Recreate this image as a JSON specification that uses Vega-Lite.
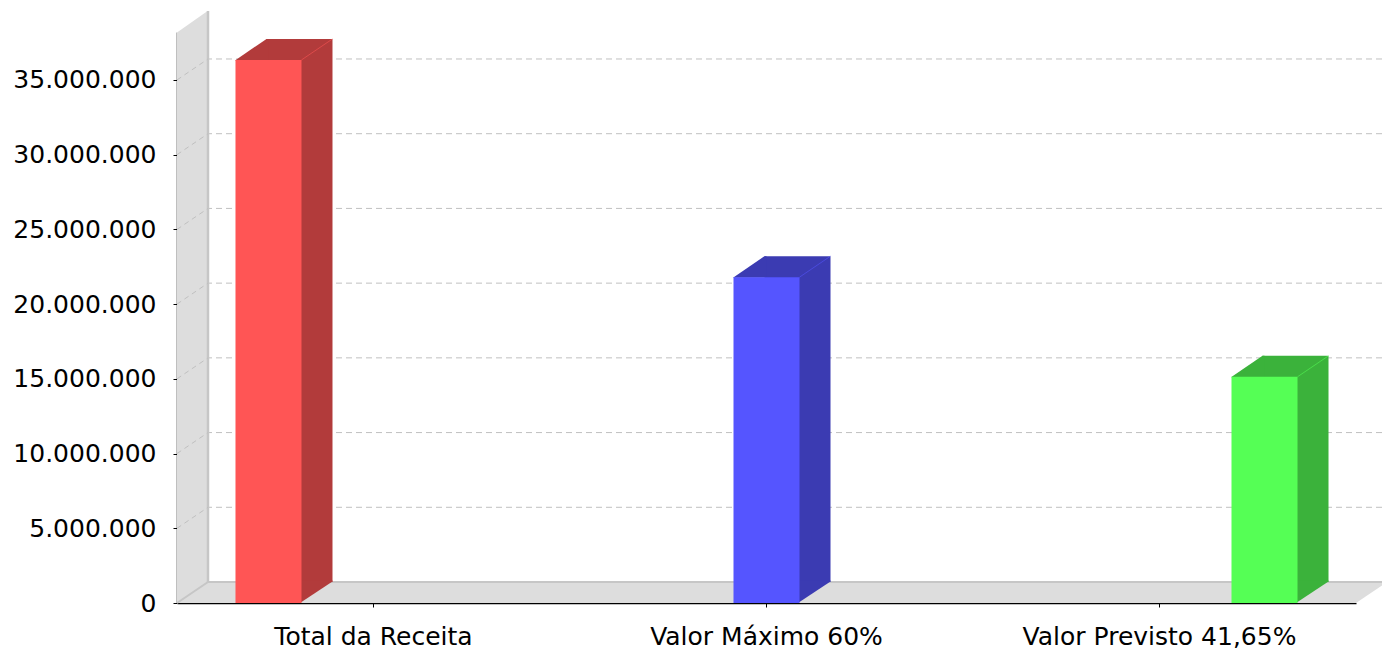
{
  "$schema": "https://vega.github.io/schema/vega-lite/v6.json",
  "width": 1205,
  "height": 571,
  "autosize": {"type": "none"},
  "padding": {"left": 177, "top": 32, "right": 0, "bottom": 46},
  "background": "white",
  "config": {
    "view": {"stroke": null},
    "font": "DejaVu Sans",
    "locale": {"number": {"decimal": ",", "thousands": ".", "grouping": [3], "currency": ["R$ ", ""]}},
    "axisX": {"labelAngle": 0, "labelFontSize": 25, "labelColor": "#000000", "tickColor": "#000000", "domainColor": "#000000", "tickSize": 4, "labelPadding": 17, "grid": false, "zindex": 1, "domainWidth": 1.5, "labelLimit": 600, "labelOverlap": false, "labelFont": "DejaVu Sans"},
    "axisY": {"labelFontSize": 25, "labelColor": "#000000", "tickColor": "#000000", "domainColor": "#000000", "tickSize": 4, "labelPadding": 17, "grid": false, "zindex": 1, "domainWidth": 1.5, "labelLimit": 600, "labelFont": "DejaVu Sans"}
  },
  "datasets": {
    "valores": [
      {"categoria": "Total da Receita", "serie": "Total da Receita", "valor": 36340000},
      {"categoria": "Valor Máximo 60%", "serie": "Valor Máximo 60%", "valor": 21804000},
      {"categoria": "Valor Previsto 41,65%", "serie": "Valor Previsto 41,65%", "valor": 15136000}
    ],
    "grade": [
      {"v": 5000000}, {"v": 10000000}, {"v": 15000000}, {"v": 20000000},
      {"v": 25000000}, {"v": 30000000}, {"v": 35000000}
    ],
    "parede": [{"parte": "parede"}]
  },
  "layer": [
    {
      "data": {"name": "grade"},
      "mark": {"type": "rule", "color": "#C0C0C0", "strokeWidth": 1, "strokeDash": [6, 4], "yOffset": -21},
      "encoding": {"y": {"field": "v", "type": "quantitative", "title": null}}
    },
    {
      "data": {"name": "parede"},
      "mark": {"type": "rule", "color": "#DDDDDD", "strokeWidth": 21, "yOffset": -10.5},
      "encoding": {"y": {"datum": 0, "type": "quantitative", "title": null}}
    },
    {
      "data": {"name": "parede"},
      "mark": {"type": "rule", "color": "#C6C6C6", "strokeWidth": 2, "yOffset": -21},
      "encoding": {"y": {"datum": 0, "type": "quantitative", "title": null}}
    },
    {
      "data": {"name": "parede"},
      "mark": {"type": "rule", "color": "#DDDDDD", "strokeWidth": 31, "xOffset": 15.5, "y2Offset": -21},
      "encoding": {
        "x": {"datum": "Total da Receita", "type": "nominal", "bandPosition": 0, "title": null},
        "y": {"datum": 0, "type": "quantitative", "title": null},
        "y2": {"datum": 38210000}
      }
    },
    {
      "data": {"name": "parede"},
      "mark": {"type": "point", "shape": "M0,0.5L0,-22L32,-22Z", "size": 4, "filled": true, "fill": "white", "strokeWidth": 0, "opacity": 1},
      "encoding": {
        "x": {"datum": "Total da Receita", "type": "nominal", "bandPosition": 0, "title": null},
        "y": {"datum": 38210000, "type": "quantitative", "title": null}
      }
    },
    {
      "data": {"name": "parede"},
      "mark": {"type": "rule", "color": "#C6C6C6", "strokeWidth": 2.5, "xOffset": 31, "yOffset": -21, "y2Offset": -21},
      "encoding": {
        "x": {"datum": "Total da Receita", "type": "nominal", "bandPosition": 0, "title": null},
        "y": {"datum": 0, "type": "quantitative", "title": null},
        "y2": {"datum": 38210000}
      }
    },
    {
      "data": {"name": "parede"},
      "mark": {"type": "point", "shape": "M0,0L31,-21", "size": 4, "filled": false, "stroke": "#C6C6C6", "strokeWidth": 2, "opacity": 1},
      "encoding": {
        "x": {"datum": "Total da Receita", "type": "nominal", "bandPosition": 0, "title": null},
        "y": {"datum": 0, "type": "quantitative", "title": null}
      }
    },
    {
      "data": {"name": "grade"},
      "mark": {"type": "point", "shape": "M0,0L31,-21", "size": 4, "filled": false, "stroke": "#C0C0C0", "strokeWidth": 1, "strokeDash": [5, 4], "opacity": 1},
      "encoding": {
        "x": {"datum": "Total da Receita", "type": "nominal", "bandPosition": 0, "title": null},
        "y": {"field": "v", "type": "quantitative", "title": null}
      }
    },
    {
      "data": {"name": "parede"},
      "mark": {"type": "point", "shape": "M0,0L31,-21L31,0Z", "size": 4, "filled": true, "fill": "white", "strokeWidth": 0, "opacity": 1},
      "encoding": {
        "x": {"datum": "Valor Previsto 41,65%", "type": "nominal", "bandPosition": 1, "title": null},
        "y": {"datum": 0, "type": "quantitative", "title": null}
      }
    },
    {
      "data": {"name": "valores"},
      "mark": {"type": "bar", "yOffset": -21, "y2Offset": -21},
      "encoding": {
        "x": {"field": "categoria", "type": "nominal", "title": null, "sort": null},
        "xOffset": {"field": "serie", "type": "nominal", "scale": {"type": "band", "domain": ["Total da Receita", "Valor Máximo 60%", "Valor Previsto 41,65%"], "paddingInner": 0.3714, "paddingOuter": 0.557, "align": 0.765}},
        "y": {"field": "valor", "type": "quantitative", "title": null},
        "y2": {"datum": 0},
        "color": {"field": "serie", "type": "nominal", "legend": null, "scale": {"domain": ["Total da Receita", "Valor Máximo 60%", "Valor Previsto 41,65%"], "range": ["#B23B3B", "#3B3BB2", "#3BB23B"]}}
      }
    },
    {
      "data": {"name": "valores"},
      "mark": {"type": "point", "shape": "M-33.5,0.5L-2,-21L0,-21L0,0.5Z", "size": 4, "filled": true, "strokeWidth": 0, "opacity": 1},
      "encoding": {
        "x": {"field": "categoria", "type": "nominal", "title": null, "sort": null},
        "xOffset": {"field": "serie", "type": "nominal", "scale": {"type": "band", "domain": ["Total da Receita", "Valor Máximo 60%", "Valor Previsto 41,65%"], "paddingInner": 0.3714, "paddingOuter": 0.557}},
        "y": {"field": "valor", "type": "quantitative", "title": null},
        "color": {"field": "serie", "type": "nominal", "legend": null, "scale": {"domain": ["Total da Receita", "Valor Máximo 60%", "Valor Previsto 41,65%"], "range": ["#B23B3B", "#3B3BB2", "#3BB23B"]}}
      }
    },
    {
      "data": {"name": "valores"},
      "mark": {"type": "point", "shape": "M31.5,0L64,-21.5L64,-22.5L31.5,-22.5Z", "size": 4, "filled": true, "strokeWidth": 0, "opacity": 1},
      "encoding": {
        "x": {"field": "categoria", "type": "nominal", "title": null, "sort": null},
        "xOffset": {"field": "serie", "type": "nominal", "scale": {"type": "band", "domain": ["Total da Receita", "Valor Máximo 60%", "Valor Previsto 41,65%"], "paddingInner": 0.3714, "paddingOuter": 0.557}},
        "y": {"datum": 0, "type": "quantitative", "title": null},
        "color": {"field": "serie", "type": "nominal", "legend": null, "scale": {"domain": ["Total da Receita", "Valor Máximo 60%", "Valor Previsto 41,65%"], "range": ["#B23B3B", "#3B3BB2", "#3BB23B"]}}
      }
    },
    {
      "data": {"name": "valores"},
      "mark": {"type": "bar"},
      "encoding": {
        "x": {"field": "categoria", "type": "nominal", "title": null, "sort": null, "scale": {"domain": ["Total da Receita", "Valor Máximo 60%", "Valor Previsto 41,65%"], "range": [0, 1179], "paddingInner": 0, "paddingOuter": 0}},
        "xOffset": {"field": "serie", "type": "nominal", "scale": {"type": "band", "domain": ["Total da Receita", "Valor Máximo 60%", "Valor Previsto 41,65%"], "paddingInner": 0.3714, "paddingOuter": 0.557}},
        "y": {"field": "valor", "type": "quantitative", "title": null, "scale": {"domain": [0, 38210000], "nice": false, "zero": true}, "axis": {"values": [0, 5000000, 10000000, 15000000, 20000000, 25000000, 30000000, 35000000], "format": ",d"}},
        "y2": {"datum": 0},
        "color": {"field": "serie", "type": "nominal", "legend": null, "scale": {"domain": ["Total da Receita", "Valor Máximo 60%", "Valor Previsto 41,65%"], "range": ["#FF5555", "#5555FF", "#55FF55"]}}
      }
    },
    {
      "data": {"name": "valores"},
      "mark": {"type": "point", "shape": "M33,0L64,-21", "size": 4, "filled": false, "strokeWidth": 1, "opacity": 1, "strokeOpacity": 0.55},
      "encoding": {
        "x": {"field": "categoria", "type": "nominal", "title": null, "sort": null},
        "xOffset": {"field": "serie", "type": "nominal", "scale": {"type": "band", "domain": ["Total da Receita", "Valor Máximo 60%", "Valor Previsto 41,65%"], "paddingInner": 0.3714, "paddingOuter": 0.557}},
        "y": {"field": "valor", "type": "quantitative", "title": null},
        "color": {"field": "serie", "type": "nominal", "legend": null, "scale": {"domain": ["Total da Receita", "Valor Máximo 60%", "Valor Previsto 41,65%"], "range": ["#FF5555", "#5555FF", "#55FF55"]}}
      }
    }
  ],
  "resolve": {"scale": {"xOffset": "independent", "color": "independent"}}
}
